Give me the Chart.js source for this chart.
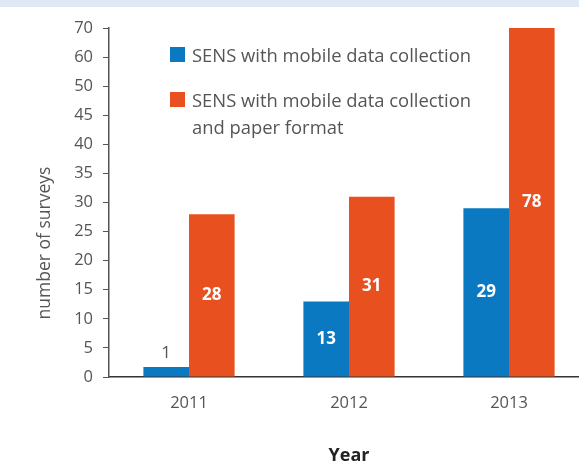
<!DOCTYPE html>
<html>
<head>
<meta charset="utf-8">
<script src="https://cdn.jsdelivr.net/npm/chart.js@4.4.1/dist/chart.umd.min.js"></script>
<style>
  html, body { margin: 0; padding: 0; background: #fff; overflow: hidden; }
  #wrap { position: relative; width: 579px; height: 463px; overflow: hidden; }
  #band { position: absolute; left: 0; top: 0; width: 100%; height: 7px; background: #dfe8f3; }
  #chart { position: absolute; left: 0; top: 0; }
  #legend { position: absolute; left: 170px; top: 41px; font-family: "Open Sans"; font-size: 18.4px; line-height: 27px; color: #555; }
  .item { display: flex; align-items: flex-start; width: 305px; margin-bottom: 18px; }
  .box { flex: none; width: 15px; height: 15px; margin-top: 6px; margin-right: 7px; }
</style>
</head>
<body>
<div id="wrap">
  <div id="band"></div>
  <canvas id="chart" width="590" height="463"></canvas>
  <div id="legend"></div>
</div>
<script>
const years = ["2011", "2012", "2013"];
const mobileOnly = [1, 13, 29];
const mobileAndPaper = [28, 31, 78];
const seriesLabels = [
  "SENS with mobile data collection",
  "SENS with mobile data collection and paper format",
];
const seriesColors = ["#0a79c1", "#e8511f"];
const yTicks = [0, 5, 10, 15, 20, 25, 30, 35, 40, 45, 50, 60, 70];

// y axis is squeezed above 50 (50 -> 60 -> 70 take one step each)
class SplitScale extends Chart.LinearScale {
  fold(v) {
    return v <= 50 ? v : 50 + (v - 50) / 2;
  }
  buildTicks() {
    return yTicks.map((v) => ({ value: v }));
  }
  getPixelForValue(v) {
    return this.getPixelForDecimal(this.fold(v) / this.fold(this.max));
  }
  getValueForPixel(p) {
    const f = this.getDecimalForPixel(p) * this.fold(this.max);
    return f <= 50 ? f : 50 + (f - 50) * 2;
  }
}
SplitScale.id = "split";
SplitScale.defaults = Chart.LinearScale.defaults;
Chart.register(SplitScale);

Chart.defaults.font.family = "Open Sans";
Chart.defaults.color = "#555";

const valueLabels = {
  id: "valueLabels",
  afterDatasetsDraw(chart) {
    const { ctx, chartArea } = chart;
    ctx.save();
    ctx.textAlign = "center";
    ctx.textBaseline = "middle";
    chart.data.datasets.forEach((ds, i) => {
      chart.getDatasetMeta(i).data.forEach((bar, j) => {
        const top = Math.max(bar.y, chartArea.top);
        const h = bar.base - top;
        if (h < 20) {
          ctx.fillStyle = "#555";
          ctx.font = "17px 'Open Sans'";
          ctx.fillText(ds.data[j], bar.x, top - 14);
        } else {
          ctx.fillStyle = "#fff";
          ctx.font = "bold 17px 'Open Sans'";
          ctx.fillText(ds.data[j], bar.x, top + h / 2);
        }
      });
    });
    ctx.restore();
  },
};

const yTitle = {
  id: "yTitle",
  afterDraw(chart) {
    const ctx = chart.ctx;
    ctx.save();
    ctx.translate(45, 243);
    ctx.rotate(-Math.PI / 2);
    ctx.textAlign = "center";
    ctx.textBaseline = "middle";
    ctx.fillStyle = "#555";
    ctx.font = "17.5px 'Open Sans'";
    ctx.fillText("number of surveys", 0, 0);
    ctx.restore();
  },
};

new Chart(document.getElementById("chart"), {
  type: "bar",
  data: {
    labels: years,
    datasets: [
      {
        label: seriesLabels[0],
        data: mobileOnly,
        backgroundColor: seriesColors[0],
        minBarLength: 10,
        clip: 0,
      },
      {
        label: seriesLabels[1],
        data: mobileAndPaper,
        backgroundColor: seriesColors[1],
        clip: 0,
      },
    ],
  },
  options: {
    responsive: false,
    animation: false,
    devicePixelRatio: 1,
    layout: { padding: { top: 28, right: 1, left: 0, bottom: 0 } },
    categoryPercentage: 0.57,
    barPercentage: 1,
    plugins: { legend: { display: false }, tooltip: { enabled: false } },
    scales: {
      x: {
        grid: { display: false, drawTicks: false },
        border: { color: "#333", width: 1.5 },
        ticks: { font: { size: 16.5 }, color: "#555", padding: 16 },
        title: {
          display: true,
          text: "Year",
          color: "#222",
          font: { size: 18, weight: "bold" },
          padding: { top: 0, bottom: -4 },
        },
        afterFit: (s) => { s.height = 86; },
      },
      y: {
        type: "split",
        min: 0,
        max: 70,
        grid: { drawOnChartArea: false, drawTicks: true, tickLength: 6, color: "#555" },
        border: { color: "#555", width: 1.5 },
        ticks: { font: { size: 16.5 }, color: "#555", padding: 10, callback: (v) => String(v) },
        afterFit: (s) => { s.width = 109; },
      },
    },
  },
  plugins: [valueLabels, yTitle],
});

const legend = document.getElementById("legend");
seriesLabels.forEach((txt, i) => {
  const item = document.createElement("div");
  item.className = "item";
  const box = document.createElement("span");
  box.className = "box";
  box.style.background = seriesColors[i];
  const label = document.createElement("span");
  label.textContent = txt;
  item.appendChild(box);
  item.appendChild(label);
  legend.appendChild(item);
});
</script>
</body>
</html>
